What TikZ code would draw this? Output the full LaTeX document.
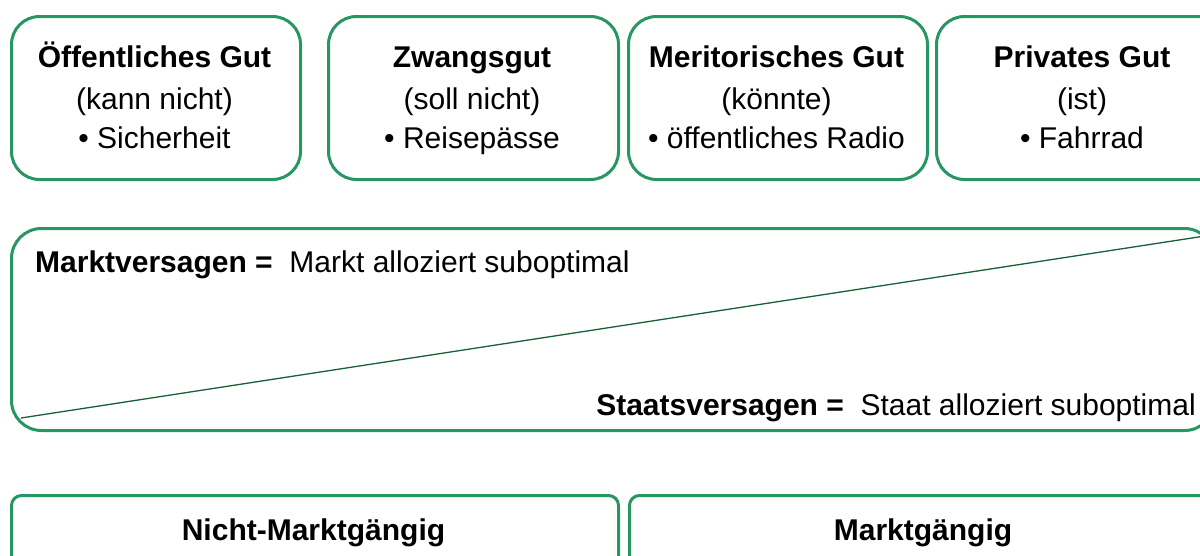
\documentclass[tikz,border=0pt]{standalone}
\usepackage{fontspec}
\setmainfont{Liberation Sans}
\definecolor{boxgreen}{RGB}{38,150,98}
\definecolor{linegreen}{RGB}{25,95,55}
\begin{document}
\begin{tikzpicture}[x=1pt,y=-1pt,
  topbox/.style={draw=boxgreen,line width=3pt,rounded corners=28pt,anchor=north west,inner sep=0pt},
  lowbox/.style={draw=boxgreen,line width=3pt,rounded corners=10pt,anchor=north west,inner sep=0pt},
  txt/.style={anchor=base,inner sep=0pt,font=\fontsize{30}{36}\selectfont},
  btxt/.style={anchor=base,inner sep=0pt,font=\fontsize{30}{36}\selectfont\bfseries},
  lowtxt/.style={anchor=base,inner sep=0pt,font=\fontsize{30}{36}\selectfont\bfseries}]
\useasboundingbox (0,0) rectangle (1200,555);
% top boxes
\node[topbox,minimum width=289pt,minimum height=163pt] (b1) at (10,15) {};
\node[topbox,minimum width=290pt,minimum height=163pt] (b2) at (327,15) {};
\node[topbox,minimum width=299pt,minimum height=163pt] (b3) at (627,15) {};
\node[topbox,minimum width=294pt,minimum height=163pt] (b4) at (935,15) {};
\node[btxt] (t1a) at (154.5,67) {Öffentliches Gut};
\node[txt]  (t1b) at (154.5,109) {(kann nicht)};
\node[txt]  (t1c) at (154.5,148) {• Sicherheit};
\node[btxt] (t2a) at (472,67) {Zwangsgut};
\node[txt]  (t2b) at (472,109) {(soll nicht)};
\node[txt]  (t2c) at (472,148) {• Reisepässe};
\node[btxt] (t3a) at (776.5,67) {Meritorisches Gut};
\node[txt]  (t3b) at (776.5,109) {(könnte)};
\node[txt]  (t3c) at (776.5,148) {• öffentliches Radio};
\node[btxt] (t4a) at (1082,67) {Privates Gut};
\node[txt]  (t4b) at (1082,109) {(ist)};
\node[txt]  (t4c) at (1082,148) {• Fahrrad};
% middle box
\node[topbox,rounded corners=30pt,minimum width=1203pt,minimum height=202pt] (mid) at (10,227) {};
\coordinate (dl) at (21,418);
\coordinate (dr) at (1205,236);
\draw[linegreen,line width=1.3pt] (dl) -- (dr);
\node[txt,anchor=base west] (mv) at (35,272) {\textbf{Marktversagen =}\ \ Markt alloziert suboptimal};
\node[txt,anchor=base east] (sv) at (1196,415) {\textbf{Staatsversagen =}\ \ Staat alloziert suboptimal};
% bottom boxes
\node[lowbox,minimum width=607pt,minimum height=120pt] (l1) at (10,494) {};
\node[lowbox,minimum width=607pt,minimum height=120pt] (l2) at (628,494) {};
\node[lowtxt] (n1) at (313.5,540) {Nicht-Marktgängig};
\node[lowtxt] (n2) at (923,540) {Marktgängig};
\end{tikzpicture}
\end{document}
